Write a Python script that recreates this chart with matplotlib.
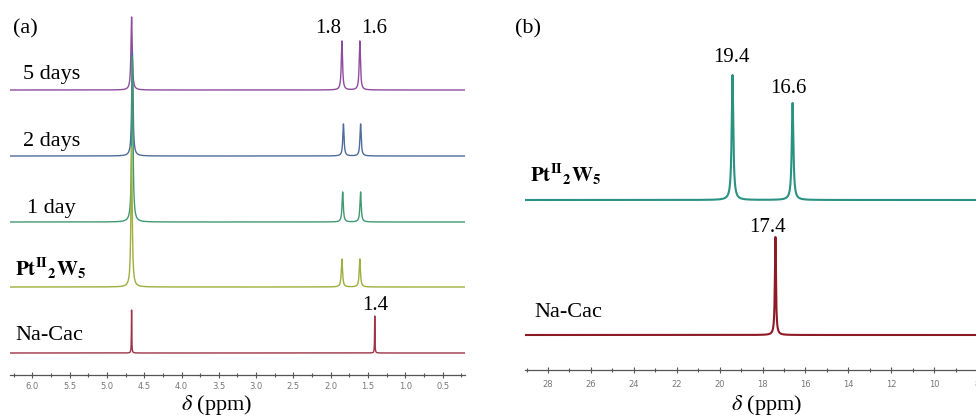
import numpy as np
import matplotlib
matplotlib.use("Agg")
import matplotlib.pyplot as plt
from matplotlib.ticker import MultipleLocator, FormatStrFormatter

plt.rcParams['font.family'] = ['Liberation Serif', 'DejaVu Serif']
plt.rcParams['mathtext.fontset'] = 'stix'

# ---------------- data ----------------
# Panel (a): 1H NMR, peak positions (ppm) and heights (arb.)
a_labels = ["5 days", "2 days", "1 day", r"$\mathbf{Pt^{II}{}_{2}W_{5}}$", "Na-Cac"]
a_peak_pos = [[4.67, 1.85, 1.61],
              [4.66, 1.83, 1.60],
              [4.66, 1.84, 1.60],
              [4.67, 1.85, 1.61],
              [4.67, 1.41]]
a_peak_h = [[73, 49, 49],
            [104, 32, 32],
            [165, 30, 30],
            [140, 28, 28],
            [43, 37]]
a_colors = ["#8e4c9c", "#4d6c9c", "#3f9a72", "#9fae3e", "#9c3446"]
a_annot = ["1.8", "1.6", "1.4"]

# Panel (b): 31P NMR
b_labels = [r"$\mathbf{Pt^{II}{}_{2}W_{5}}$", "Na-Cac"]
b_peak_pos = [[19.4, 16.6], [17.4]]
b_peak_h = [[125, 97], [98]]
b_colors = ["#2a9282", "#8e1a26"]
b_annot = ["19.4", "16.6", "17.4"]

W, H = 976, 417
fig = plt.figure(figsize=(W / 100, H / 100), dpi=100)


def fx(px):
    return px / W


def fy(py):
    return 1 - py / H


def spectrum(x, pos, hts, gam):
    y = np.zeros_like(x)
    for p, h in zip(pos, hts):
        y += h * gam**2 / ((x - p) ** 2 + gam**2)
    return y


def style_axis(ax, major, minor, fmt):
    for s in ["left", "top", "right"]:
        ax.spines[s].set_visible(False)
    ax.spines["bottom"].set_color("#555555")
    ax.spines["bottom"].set_linewidth(0.9)
    ax.set_yticks([])
    ax.xaxis.set_major_locator(MultipleLocator(major))
    ax.xaxis.set_minor_locator(MultipleLocator(minor))
    ax.xaxis.set_major_formatter(FormatStrFormatter(fmt))
    ax.tick_params(axis="x", which="major", direction="inout", length=4, width=0.8,
                   color="#555555", labelsize=6, labelcolor="#777777", pad=3)
    ax.tick_params(axis="x", which="minor", direction="inout", length=3, width=0.8,
                   color="#555555")
    ax.patch.set_alpha(0)
    for lab in ax.get_xticklabels():
        lab.set_family("DejaVu Sans")


# ---------------- panel (a) ----------------
axa = fig.add_axes([fx(10), 1 - 375 / H, 455 / W, 375 / H])
xa = np.linspace(6.3, 0.2, 40000)
a_offsets = [285, 219, 153, 88, 22]
a_gam = [0.010, 0.010, 0.010, 0.010, 0.003]
for i in range(len(a_labels)):
    y = a_offsets[i] + spectrum(xa, a_peak_pos[i], a_peak_h[i], a_gam[i])
    axa.plot(xa, y, color=a_colors[i], lw=1.0, zorder=2 + i)
axa.set_xlim(6.3, 0.2)
axa.set_ylim(0, 375)
style_axis(axa, 0.5, 0.25, "%.1f")

fig.text(fx(13), fy(33), "(a)", fontsize=16, ha="left", va="baseline")
a_label_xy = [(23, 79), (23, 146), (27, 213), (15, 276), (15, 340)]
a_label_size = [16, 16, 16, 15, 16]
for lab, (lx, ly), fs in zip(a_labels, a_label_xy, a_label_size):
    fig.text(fx(lx), fy(ly), lab, fontsize=fs, ha="left", va="baseline")
a_annot_xy = [(328, 33), (374, 33), (375, 310)]
for lab, (lx, ly) in zip(a_annot, a_annot_xy):
    fig.text(fx(lx), fy(ly), lab, fontsize=15, ha="center", va="baseline")
fig.text(fx(217), fy(410), r"$\delta$ (ppm)", fontsize=16, ha="center", va="baseline")

# ---------------- panel (b) ----------------
axb = fig.add_axes([fx(525), 1 - 370 / H, 480 / W, 370 / H])
xb = np.linspace(29.1, 6.7, 30000)
b_offsets = [170, 35]
b_gam = [0.045, 0.03]
for i in range(len(b_labels)):
    y = b_offsets[i] + spectrum(xb, b_peak_pos[i], b_peak_h[i], b_gam[i])
    axb.plot(xb, y, color=b_colors[i], lw=1.5, zorder=2 + i)
axb.set_xlim(29.07, 6.7)
axb.set_ylim(0, 370)
style_axis(axb, 2, 1, "%d")
axb.tick_params(axis="x", which="major", pad=5)

fig.text(fx(515), fy(33), "(b)", fontsize=16, ha="left", va="baseline")
b_label_xy = [(530, 182), (534, 317)]
b_label_size = [15, 16]
for lab, (lx, ly), fs in zip(b_labels, b_label_xy, b_label_size):
    fig.text(fx(lx), fy(ly), lab, fontsize=fs, ha="left", va="baseline")
b_annot_xy = [(731, 62), (788, 93), (767, 232)]
for lab, (lx, ly) in zip(b_annot, b_annot_xy):
    fig.text(fx(lx), fy(ly), lab, fontsize=15, ha="center", va="baseline")
fig.text(fx(767), fy(410), r"$\delta$ (ppm)", fontsize=16, ha="center", va="baseline")

fig.savefig("out.png", dpi=100)
